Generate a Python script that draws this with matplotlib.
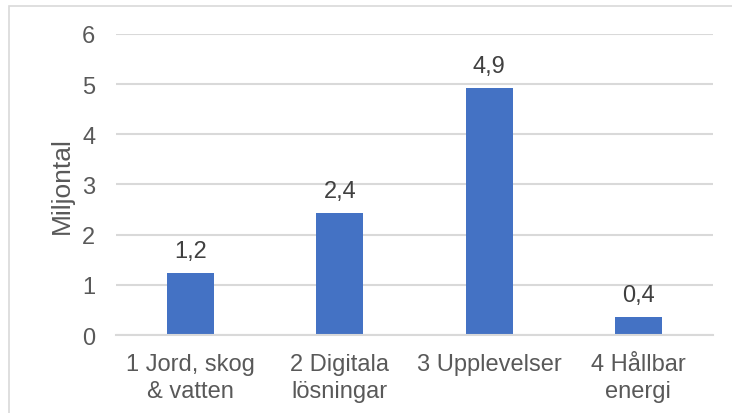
import matplotlib.pyplot as plt
from matplotlib.patches import Rectangle
import numpy as np

plt.rcParams['font.family'] = ['Liberation Sans', 'DejaVu Sans']

# data
categories = ['1 Jord, skog\n& vatten', '2 Digitala\nlösningar', '3 Upplevelser', '4 Hållbar\nenergi']
values = [1.24, 2.43, 4.92, 0.36]
value_labels = ['1,2', '2,4', '4,9', '0,4']
yticks = [0, 1, 2, 3, 4, 5, 6]

fig = plt.figure(figsize=(7.32, 4.14), dpi=100)
ax = fig.add_axes([0.1585, 0.1884, 0.8155, 0.7271])

x = np.arange(len(categories))
bars = ax.bar(x, values, width=0.315, color='#4472C4', zorder=3)

for b, lab in zip(bars, value_labels):
    ax.annotate(lab, (b.get_x() + b.get_width() / 2, b.get_height()),
                xytext=(0, 8), textcoords='offset points',
                ha='center', va='bottom', fontsize=17, color='#404040')

ax.set_xlim(-0.5, len(categories) - 0.5)
ax.set_ylim(0, 6)
ax.set_yticks(yticks)
ax.set_xticks(x)
ax.set_xticklabels(categories, fontsize=17, color='#595959', linespacing=1.3)
ax.set_yticklabels([str(t) for t in yticks], fontsize=17, color='#595959')
ax.tick_params(length=0)
ax.tick_params(axis='y', pad=15)
ax.tick_params(axis='x', pad=13)

ax.grid(axis='y', color='#d9d9d9', linewidth=1.5, zorder=0)
for s in ['top', 'right', 'left']:
    ax.spines[s].set_visible(False)
ax.spines['bottom'].set_color('#d9d9d9')
ax.spines['bottom'].set_linewidth(1.5)
ax.spines['bottom'].set_zorder(4)

ax.set_ylabel('Miljontal', fontsize=19, color='#595959', labelpad=6)

# outer chart frame (cut off at right and bottom)
fig.patches.append(Rectangle((9 / 732, -0.05), 1.1, 1 - 7 / 414 + 0.05,
                             transform=fig.transFigure, fill=False,
                             edgecolor='#d9d9d9', linewidth=1.2))

fig.savefig('out.png', dpi=100)
